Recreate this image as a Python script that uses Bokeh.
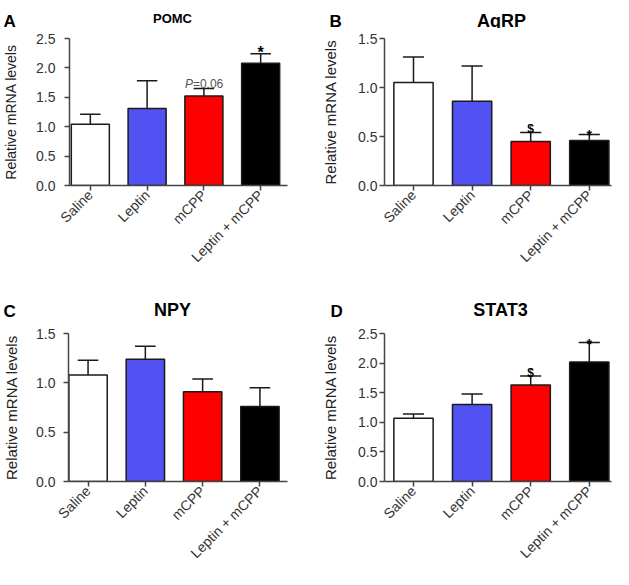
from math import pi
from bokeh.plotting import figure
from bokeh.layouts import row, column
from bokeh.models import Range1d, FixedTicker, PrintfTickFormatter, Label, ColumnDataSource
from bokeh.core.properties import value
from bokeh.embed import file_html
from bokeh.resources import INLINE

# ---------------- data ----------------
categories = ["Saline", "Leptin", "mCPP", "Leptin + mCPP"]
bar_colors = ["#FFFFFF", "#5252F2", "#FF0000", "#000000"]

pomc_mean = [1.04, 1.31, 1.52, 2.08]
pomc_sem = [0.17, 0.47, 0.13, 0.16]

agrp_mean = [1.05, 0.86, 0.45, 0.46]
agrp_sem = [0.26, 0.36, 0.09, 0.06]

npy_mean = [1.08, 1.24, 0.91, 0.76]
npy_sem = [0.15, 0.13, 0.13, 0.19]

stat3_mean = [1.07, 1.30, 1.63, 2.02]
stat3_sem = [0.07, 0.18, 0.15, 0.33]

pomc_ticks = [0.0, 0.5, 1.0, 1.5, 2.0, 2.5]
agrp_ticks = [0.0, 0.5, 1.0, 1.5]
npy_ticks = [0.0, 0.5, 1.0, 1.5]
stat3_ticks = [0.0, 0.5, 1.0, 1.5, 2.0, 2.5]

panel_letters = ["A", "B", "C", "D"]
panel_titles = ["POMC", "AgRP", "NPY", "STAT3"]

FONT = "Liberation Sans"


def make_header(w, h, letters, letter_xy, titles, title_sizes, title_xy):
    p = figure(width=w, height=h, x_range=Range1d(0, w), y_range=Range1d(h, 0),
               output_backend="svg", toolbar_location=None,
               x_axis_type=None, y_axis_type=None,
               min_border_left=0, min_border_right=0, min_border_top=0, min_border_bottom=0)
    p.title.visible = False
    p.outline_line_color = None
    p.border_fill_color = None
    p.background_fill_color = None
    p.xgrid.visible = False
    p.ygrid.visible = False
    p.text(x=[xy[0] for xy in letter_xy], y=[xy[1] for xy in letter_xy], text=letters,
           text_font=value(FONT), text_font_size="17px", text_font_style="bold",
           text_color="#000000", text_align="left", text_baseline="alphabetic")
    for t, s, xy in zip(titles, title_sizes, title_xy):
        p.text(x=[xy[0]], y=[xy[1]], text=[t], text_font=value(FONT),
               text_font_size=s, text_font_style="bold", text_color="#000000",
               text_align="center", text_baseline="alphabetic")
    return p


def make_panel(means, sems, ticks, geom, ylab_size, ylab_standoff, tick_standoff, marks):
    fl, ft, w, h, L, R, T, B, c0 = geom
    spacing = 58.6
    x0 = -(c0 - L) / spacing
    x1 = x0 + (R - L) / spacing
    ymax = ticks[-1]

    p = figure(width=w, height=h, x_range=Range1d(x0, x1), y_range=Range1d(0, ymax),
               output_backend="svg", toolbar_location=None,
               min_border_left=L - fl, min_border_right=fl + w - R,
               min_border_top=T - ft, min_border_bottom=ft + h - B)
    p.title.visible = False
    p.outline_line_color = None
    p.border_fill_color = None
    p.background_fill_color = None
    p.xgrid.visible = False
    p.ygrid.visible = False

    xs = list(range(len(categories)))
    tops = [m + s for m, s in zip(means, sems)]
    src = ColumnDataSource(dict(x=xs, top=means, color=bar_colors, etop=tops,
                                cl=[x - 0.18 for x in xs], cr=[x + 0.18 for x in xs]))
    p.vbar(x="x", top="top", width=0.67, bottom=0, fill_color="color",
           line_color="#1a1a1a", line_width=1.5, source=src)
    p.segment(x0="x", y0="top", x1="x", y1="etop", line_color="#1a1a1a",
              line_width=1.5, source=src)
    p.segment(x0="cl", y0="etop", x1="cr", y1="etop", line_color="#1a1a1a",
              line_width=1.5, source=src)

    xa = p.xaxis[0]
    xa.ticker = FixedTicker(ticks=xs)
    xa.major_label_overrides = {i: c for i, c in enumerate(categories)}
    xa.major_label_orientation = pi / 4
    xa.major_label_text_font = FONT
    xa.major_label_text_font_size = "14px"
    xa.major_label_text_color = "#333333"
    xa.major_label_standoff = 2
    xa.axis_line_color = "#444444"
    xa.axis_line_width = 1.5
    xa.major_tick_line_color = "#444444"
    xa.major_tick_line_width = 1.5
    xa.major_tick_in = 0
    xa.major_tick_out = 5
    xa.minor_tick_line_color = None

    ya = p.yaxis[0]
    ya.ticker = FixedTicker(ticks=ticks)
    ya.formatter = PrintfTickFormatter(format="%.1f")
    ya.major_label_text_font = FONT
    ya.major_label_text_font_size = "14px"
    ya.major_label_text_color = "#333333"
    ya.major_label_standoff = tick_standoff
    ya.axis_line_color = "#444444"
    ya.axis_line_width = 1.5
    ya.major_tick_line_color = "#444444"
    ya.major_tick_line_width = 1.5
    ya.major_tick_in = 0
    ya.major_tick_out = 5
    ya.minor_tick_line_color = None
    ya.axis_label = "Relative mRNA levels"
    ya.axis_label_text_font = FONT
    ya.axis_label_text_font_size = ylab_size
    ya.axis_label_text_font_style = "normal"
    ya.axis_label_text_color = "#222222"
    ya.axis_label_standoff = ylab_standoff

    for (xi, yv, txt, size, style, color, align, xoff) in marks:
        p.add_layout(Label(x=xi, y=yv, text=txt, text_font=FONT, text_font_size=size,
                           text_font_style=style, text_color=color, text_align=align,
                           x_offset=xoff, text_baseline="alphabetic"))
    return p


h1 = make_header(613, 28, panel_letters[0:2], [(3, 21), (329, 21)],
                 panel_titles[0:2], ["13px", "18px"], [(172, 18), (501, 20)])
h2 = make_header(613, 40, panel_letters[2:4], [(3, 31), (330, 31)],
                 panel_titles[2:4], ["18px", "18px"], [(172, 29), (500, 29)])

pA = make_panel(pomc_mean, pomc_sem, pomc_ticks,
                (8, 36, 306, 252, 70, 295, 42, 193, 91.5), "14px", 14, 9,
                [(2, 1.72, "P", "12px", "italic", "#555555", "right", -11),
                 (2, 1.72, "=0.06", "12px", "normal", "#555555", "left", -11),
                 (3, 2.26, "*", "16px", "bold", "#000000", "center", 0)])

pB = make_panel(agrp_mean, agrp_sem, agrp_ticks,
                (314, 36, 307, 252, 392, 619, 46, 198, 421), "15px", 16, 2,
                [(2, 0.575, "$", "12px", "bold", "#000000", "center", 0),
                 (3, 0.52, "*", "14px", "bold", "#000000", "center", 0)])

pC = make_panel(npy_mean, npy_sem, npy_ticks,
                (8, 328, 306, 249, 71, 295, 340, 497, 91), "15px", 13, 8,
                [])

pD = make_panel(stat3_mean, stat3_sem, stat3_ticks,
                (314, 328, 307, 249, 392, 619, 341, 497, 421), "15px", 16, 2,
                [(2, 1.84, "$", "12px", "bold", "#000000", "center", 0),
                 (3, 2.33, "*", "14px", "bold", "#000000", "center", 0)])

layout = column(h1, row(pA, pB), h2, row(pC, pD))

open("out.html", "w").write(file_html(layout, INLINE))
